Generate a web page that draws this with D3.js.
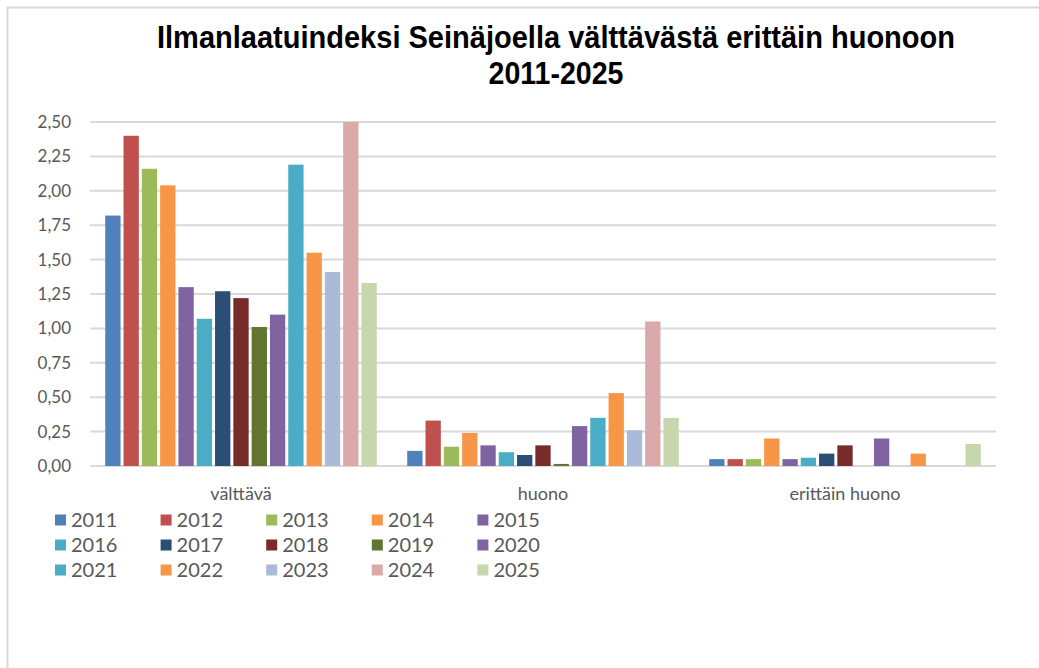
<!DOCTYPE html>
<html>
<head>
<meta charset="utf-8">
<script src="https://cdn.jsdelivr.net/npm/d3@7"></script>
<style>
  body { margin: 0; background: #fff; }
  svg { display: block; }
</style>
</head>
<body>
<div id="chart"></div>
<script>
// categories and series
var categories = ["välttävä", "huono", "erittäin huono"];
var years = ["2011", "2012", "2013", "2014", "2015", "2016", "2017", "2018",
             "2019", "2020", "2021", "2022", "2023", "2024", "2025"];
// one value per category (välttävä, huono, erittäin huono) for each year
var values2011 = [1.82, 0.11, 0.05];
var values2012 = [2.40, 0.33, 0.05];
var values2013 = [2.16, 0.14, 0.05];
var values2014 = [2.04, 0.24, 0.20];
var values2015 = [1.30, 0.15, 0.05];
var values2016 = [1.07, 0.10, 0.06];
var values2017 = [1.27, 0.08, 0.09];
var values2018 = [1.22, 0.15, 0.15];
var values2019 = [1.01, 0.015, 0];
var values2020 = [1.10, 0.29, 0.20];
var values2021 = [2.19, 0.35, 0];
var values2022 = [1.55, 0.53, 0.09];
var values2023 = [1.41, 0.26, 0];
var values2024 = [2.50, 1.05, 0];
var values2025 = [1.33, 0.35, 0.16];
var yTicks = [0, 0.25, 0.5, 0.75, 1, 1.25, 1.5, 1.75, 2, 2.25, 2.5];

var colors = ["#4F81BD", "#C0504D", "#9BBB59", "#F79646", "#8064A2",
              "#4BACC6", "#2C4D75", "#772C2A", "#5F7530", "#8064A2",
              "#4BACC6", "#F79646", "#AABBD9", "#DAA9A9", "#C6D7AD"];

var allValues = [values2011, values2012, values2013, values2014, values2015,
                 values2016, values2017, values2018, values2019, values2020,
                 values2021, values2022, values2023, values2024, values2025];

var W = 1039, H = 668;
var svg = d3.select("#chart").append("svg")
    .attr("width", W).attr("height", H);

// outer frame (only top and left edges show)
svg.append("path")
    .attr("d", "M7.5," + H + "V7.5H" + W)
    .attr("fill", "none")
    .attr("stroke", "#D9D9D9")
    .attr("stroke-width", 2);

// title - condensed bold like the original
var title = svg.append("text")
    .attr("x", 556).attr("y", 48)
    .attr("text-anchor", "middle")
    .style("font-family", "'Liberation Sans', sans-serif")
    .style("font-weight", "bold")
    .style("font-size", "31px")
    .style("fill", "#000");
title.append("tspan").attr("x", 556)
    .attr("textLength", 798).attr("lengthAdjust", "spacingAndGlyphs")
    .text("Ilmanlaatuindeksi Seinäjoella välttävästä erittäin huonoon");
title.append("tspan").attr("x", 556).attr("dy", 36)
    .attr("textLength", 135).attr("lengthAdjust", "spacingAndGlyphs")
    .text("2011-2025");

var plot = {left: 90, right: 996, top: 122, bottom: 466};

var x0 = d3.scaleBand().domain(categories).range([plot.left, plot.right]);
var x1 = d3.scaleBand().domain(years).range([0, x0.bandwidth()])
    .paddingInner(0).paddingOuter(0.75);
var y = d3.scaleLinear().domain([0, 2.5]).range([plot.bottom, plot.top]);

// gridlines
svg.append("g")
    .selectAll("line")
    .data(yTicks)
    .enter().append("line")
    .attr("x1", plot.left).attr("x2", plot.right)
    .attr("y1", function (d) { return y(d); })
    .attr("y2", function (d) { return y(d); })
    .attr("stroke", "#D9D9D9")
    .attr("stroke-width", 2);

// y tick labels
svg.append("g")
    .selectAll("text")
    .data(yTicks)
    .enter().append("text")
    .attr("x", 71)
    .attr("y", function (d) { return y(d); })
    .attr("dy", "0.35em")
    .attr("text-anchor", "end")
    .style("font-family", "Lato, sans-serif")
    .style("font-size", "17px")
    .style("fill", "#595959")
    .text(function (d) { return d3.format(".2f")(d).replace(".", ","); });

// bars
var series = years.map(function (yr, i) {
    return {year: yr, color: colors[i], values: allValues[i]};
});

series.forEach(function (s) {
    svg.append("g")
        .selectAll("rect")
        .data(s.values.map(function (v, j) { return {cat: categories[j], v: v}; }))
        .enter().append("rect")
        .attr("x", function (d) { return x0(d.cat) + x1(s.year) + 1.5; })
        .attr("width", x1.bandwidth() - 3)
        .attr("y", function (d) { return y(d.v); })
        .attr("height", function (d) { return y(0) - y(d.v); })
        .attr("fill", s.color);
});

// category labels
svg.append("g")
    .selectAll("text")
    .data(categories)
    .enter().append("text")
    .attr("x", function (d) { return x0(d) + x0.bandwidth() / 2; })
    .attr("y", 500)
    .attr("text-anchor", "middle")
    .style("font-family", "Lato, sans-serif")
    .style("font-size", "18px")
    .style("fill", "#595959")
    .text(function (d) { return d; });

// legend, 5 per row
var legend = svg.append("g")
    .selectAll("g")
    .data(series)
    .enter().append("g")
    .attr("transform", function (d, i) {
        return "translate(" + (55 + (i % 5) * 105.6) + "," + (520 + Math.floor(i / 5) * 25) + ")";
    });
legend.append("rect")
    .attr("x", 0).attr("y", -5.5)
    .attr("width", 11).attr("height", 11)
    .attr("fill", function (d) { return d.color; });
legend.append("text")
    .attr("x", 16).attr("dy", "0.36em")
    .style("font-family", "Lato, sans-serif")
    .style("font-size", "20px")
    .style("fill", "#595959")
    .text(function (d) { return d.year; });
</script>
</body>
</html>
